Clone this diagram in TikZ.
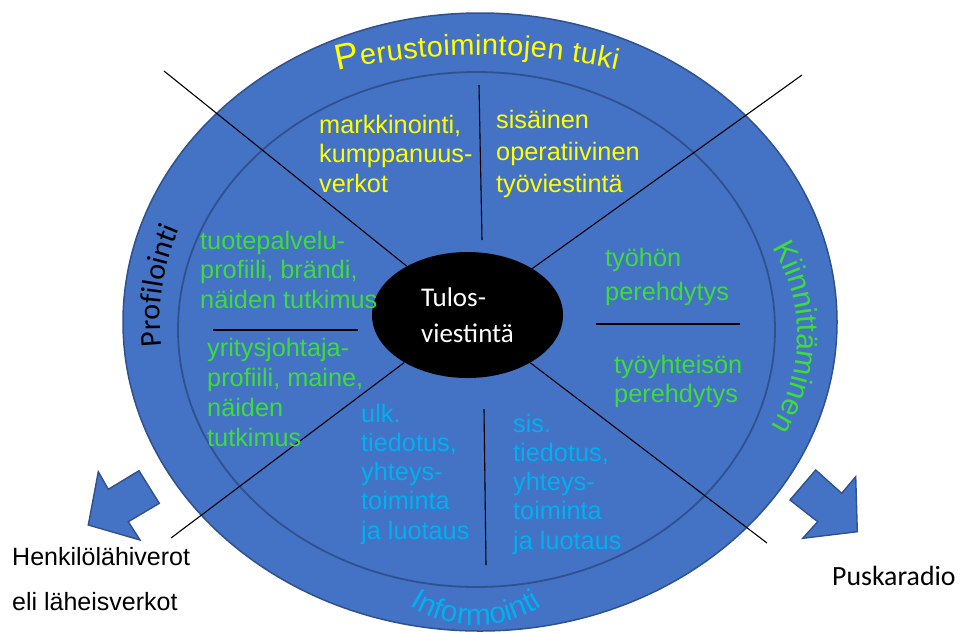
\documentclass[tikz,border=0pt]{standalone}
\usepackage{fontspec}
\setmainfont{Liberation Sans}
\newfontfamily\carlito{Carlito}
\usetikzlibrary{decorations.text,shapes.geometric}
\definecolor{ringblue}{HTML}{4472C4}
\definecolor{ringedge}{HTML}{2F528F}
\definecolor{txtyellow}{HTML}{FFFF00}
\definecolor{txtgreen}{HTML}{3DDC3D}
\definecolor{txtcyan}{HTML}{00B0F0}
\begin{document}
\begin{tikzpicture}[x=1pt,y=1pt,
  body/.style={font=\fontsize{25.3}{29.5}\selectfont, align=left, anchor=base west, inner sep=0pt},
  divider/.style={draw=black, line width=1.1pt},
  ringline/.style={draw=ringedge, line width=1.8pt},
  blockarrow/.style={fill=ringblue, draw=ringedge, line width=1.4pt, line join=miter}
]
\useasboundingbox (0,0) rectangle (960,-633);
% rings
\filldraw[fill=ringblue, draw=ringedge, line width=1.5pt] (480,-322) ellipse [x radius=357, y radius=309];
\draw[ringline] (476.5,-329.5) ellipse [x radius=298.5, y radius=257.5];
% block arrows
\filldraw[blockarrow] (98.3,-471.7) -- (108.3,-489.3) -- (139,-470.7) -- (159.3,-503.3) -- (128.3,-521.7) -- (140,-540) -- (88.3,-525) -- cycle;
\filldraw[blockarrow] (815.7,-470) -- (841.7,-493.3) -- (855.7,-476.7) -- (857.3,-531.7) -- (802.7,-538.3) -- (817.7,-521.7) -- (790,-500) -- cycle;
% centre
\node[ellipse, fill=black, minimum width=191pt, minimum height=126pt, inner sep=0pt, text=white,
      font=\carlito\fontsize{27}{36}\selectfont, align=left] (tulos) at (467.5,-315) {Tulos-\\viestintä};
% free ends of dividers
\coordinate (d1) at (164,-71);
\coordinate (d2) at (802,-75);
\coordinate (d3) at (171,-538);
\coordinate (d4) at (767,-543);
\coordinate (v1a) at (479,-85);  \coordinate (v1b) at (482,-240);
\coordinate (v2a) at (484,-409); \coordinate (v2b) at (486,-565);
\coordinate (h1a) at (213,-330); \coordinate (h1b) at (358,-330);
\coordinate (h2a) at (596,-324); \coordinate (h2b) at (740,-324);
\draw[divider] (d1) -- (tulos);
\draw[divider] (d2) -- (tulos);
\draw[divider] (d3) -- (tulos);
\draw[divider] (d4) -- (tulos);
\draw[divider] (v1a) -- (v1b);
\draw[divider] (v2a) -- (v2b);
\draw[divider] (h1a) -- (h1b);
\draw[divider] (h2a) -- (h2b);
% sector texts (anchored at the baseline of the last line)
\node[body, text=txtyellow] (mk) at (319,-192) {markkinointi,\\kumppanuus-\\verkot};
\node[body, text=txtyellow, font=\fontsize{25.3}{32}\selectfont] (si) at (496,-192) {sisäinen\\operatiivinen\\työviestintä};
\node[body, text=txtgreen] (tp) at (200,-308) {tuotepalvelu-\\profiili, brändi,\\näiden tutkimus};
\node[body, text=txtgreen, font=\fontsize{25.3}{29.7}\selectfont] (yj) at (207,-446) {yritysjohtaja-\\profiili, maine,\\näiden\\tutkimus};
\node[body, text=txtcyan, font=\fontsize{25.3}{29.25}\selectfont] (ulk) at (361,-539) {ulk.\\tiedotus,\\yhteys-\\toiminta\\ja luotaus};
\node[body, text=txtgreen, font=\fontsize{25.3}{34}\selectfont] (th) at (605,-300) {työhön\\perehdytys};
\node[body, text=txtgreen, font=\fontsize{25.3}{29}\selectfont] (ty) at (614,-402) {työyhteisön\\perehdytys};
\node[body, text=txtcyan, font=\fontsize{25.3}{29.25}\selectfont] (sis) at (513,-549) {sis.\\tiedotus,\\yhteys-\\toiminta\\ja luotaus};
% outside labels
\node[body, text=black, font=\fontsize{25}{45}\selectfont] (hk) at (12,-610) {Henkilölähiverot\\eli läheisverkot};
\node[body, text=black, font=\carlito\fontsize{27.8}{30}\selectfont] (pr) at (832,-585) {Puskaradio};
% curved ring texts
\path[decorate, decoration={text along path, text align=fit to path, text color=txtyellow,
   text={|\fontsize{36}{36}\selectfont|P|\fontsize{29}{29}\selectfont|erustoimintojen tuki}}]
   ({480+420*cos(109.8)},{-322+267*sin(109.8)}) arc[start angle=109.8, end angle=71, x radius=420, y radius=267];
\path[decorate, decoration={text along path, text align=center, text color=black,
   text={|\carlito\fontsize{30}{30}\selectfont|Profilointi}}]
   ({480+320*cos(200.8)},{-322+272*sin(200.8)}) arc[start angle=200.8, end angle=144.8, x radius=320, y radius=272];
\path[decorate, decoration={text along path, text align=center, text color=txtgreen,
   text={|\fontsize{30}{30}\selectfont|Kiinnittäminen}}]
   ({628.5+168.8*cos(40)},{-335.7+168.8*sin(40)}) arc[start angle=40, end angle=-41, radius=168.8];
\path[decorate, decoration={text along path, text align=center, text color=txtcyan,
   text={|\fontsize{30}{30}\selectfont|Informointi}}]
   ({476+124*cos(215)},{-501+124*sin(215)}) arc[start angle=215, end angle=325, radius=124];
\end{tikzpicture}
\end{document}
